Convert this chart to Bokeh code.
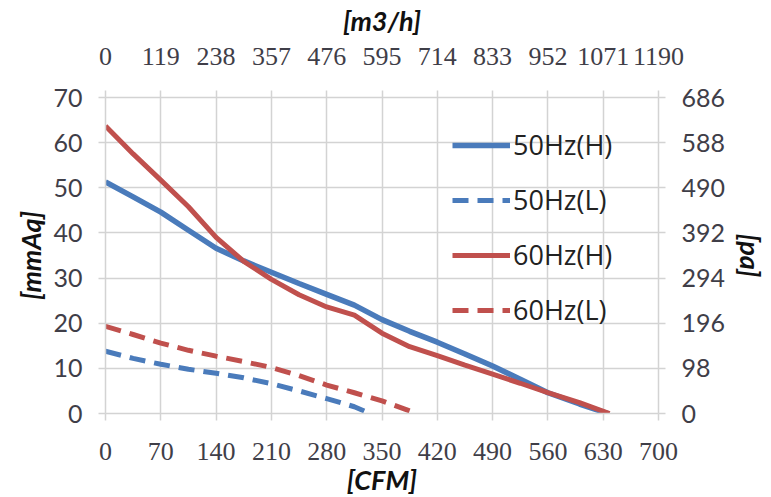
import math
from bokeh.plotting import figure
from bokeh.models import Range1d, LinearAxis, FixedTicker, Legend, LegendItem, Title
from bokeh.embed import file_html
from bokeh.resources import INLINE

# ---- data ----
cfm_ticks = [0, 70, 140, 210, 280, 350, 420, 490, 560, 630, 700]
mmaq_ticks = [0, 10, 20, 30, 40, 50, 60, 70]
m3h_ticks = [0, 119, 238, 357, 476, 595, 714, 833, 952, 1071, 1190]
pa_ticks = [0, 98, 196, 294, 392, 490, 588, 686]

h50_x = [0, 35, 70, 105, 140, 175, 210, 245, 280, 315, 350, 385, 420, 455, 490, 525, 560, 600, 636]
h50_y = [51.3, 48.0, 44.6, 40.6, 36.6, 33.8, 31.3, 28.8, 26.4, 24.0, 20.8, 18.2, 15.8, 13.2, 10.5, 7.6, 4.6, 2.1, 0]

l50_x = [0, 35, 70, 105, 140, 175, 210, 245, 280, 315, 335]
l50_y = [13.8, 12.2, 10.9, 9.8, 8.9, 7.9, 6.6, 5.0, 3.3, 1.5, 0]

h60_x = [0, 35, 70, 105, 140, 175, 210, 245, 280, 315, 350, 385, 420, 455, 490, 525, 560, 600, 638]
h60_y = [63.7, 57.5, 51.7, 45.8, 39.0, 33.7, 29.7, 26.3, 23.6, 21.8, 17.8, 14.8, 12.8, 10.7, 8.7, 6.7, 4.6, 2.4, 0]

l60_x = [0, 35, 70, 105, 140, 175, 210, 245, 280, 315, 350, 394]
l60_y = [19.3, 17.5, 15.6, 14.0, 12.7, 11.5, 10.2, 8.4, 6.3, 4.6, 2.8, 0]

labels = ["50Hz(H)", "50Hz(L)", "60Hz(H)", "60Hz(L)"]

BLUE = "#4a7bbb"
RED = "#c0504d"
GRID = "#d3d3d3"
TXT = "#3f3e48"

p = figure(frame_width=553, frame_height=316,
           x_range=Range1d(0, 700), y_range=Range1d(0, 70),
           output_backend="svg", toolbar_location=None,
           min_border_left=105, min_border_right=97,
           min_border_top=97, min_border_bottom=80,
           background_fill_color="white", border_fill_color="white")
p.outline_line_color = None
p.extra_x_ranges = {"m3h": Range1d(0, 1190)}
p.extra_y_ranges = {"pa": Range1d(0, 686)}

bottom = p.below[0]
left = p.left[0]
top = LinearAxis(x_range_name="m3h")
right = LinearAxis(y_range_name="pa")
p.add_layout(top, "above")
p.add_layout(right, "right")

bottom.ticker = FixedTicker(ticks=cfm_ticks)
left.ticker = FixedTicker(ticks=mmaq_ticks)
top.ticker = FixedTicker(ticks=m3h_ticks)
right.ticker = FixedTicker(ticks=pa_ticks)

p.xgrid.ticker = FixedTicker(ticks=cfm_ticks)
p.ygrid.ticker = FixedTicker(ticks=mmaq_ticks)
for g in (p.xgrid, p.ygrid):
    g.grid_line_color = GRID
    g.grid_line_width = 1.5

bottom.axis_label = "[CFM]"
left.axis_label = "[mmAq]"
top.axis_label = "[m3/h]"

for ax in (bottom, left, top, right):
    ax.axis_line_color = GRID
    ax.axis_line_width = 1.5
    ax.major_tick_line_color = GRID
    ax.major_tick_line_width = 1.5
    ax.major_tick_out = 7
    ax.major_tick_in = 0
    ax.minor_tick_line_color = None
    ax.major_label_text_color = TXT
    ax.axis_label_text_font = "Lato"
    ax.axis_label_text_font_style = "bold italic"
    ax.axis_label_text_font_size = "27px"
    ax.axis_label_text_color = "#111111"

top.major_label_text_font = "Liberation Sans Narrow"
top.major_label_text_font_size = "26px"
top.major_label_standoff = 26
top.axis_label_standoff = 8

bottom.major_label_text_font = "Liberation Sans Narrow"
bottom.major_label_text_font_size = "26px"
bottom.major_label_standoff = 22
bottom.axis_label_standoff = 0

for ax in (left, right):
    ax.major_label_text_font = "Lato"
    ax.major_label_text_font_size = "25px"
    ax.major_label_standoff = 16
left.axis_label_standoff = 3

# right axis title reading bottom-to-top, like the left one
if "axis_label_orientation" in right.properties():
    right.axis_label = "[pa]"
    right.axis_label_orientation = "vertical"
    right.axis_label_standoff = 6
else:
    t = Title(text="[pa]", align="center", text_font="Lato",
              text_font_style="bold italic", text_font_size="27px",
              text_color="#111111")
    p.add_layout(t, "right")

r1 = p.line(h50_x, h50_y, line_color=BLUE, line_width=5.5)
r2 = p.line(l50_x, l50_y, line_color=BLUE, line_width=5, line_dash="16 9")
r3 = p.line(h60_x, h60_y, line_color=RED, line_width=5)
r4 = p.line(l60_x, l60_y, line_color=RED, line_width=5, line_dash="16 9")

legend = Legend(items=[LegendItem(label=labels[0], renderers=[r1]),
                       LegendItem(label=labels[1], renderers=[r2]),
                       LegendItem(label=labels[2], renderers=[r3]),
                       LegendItem(label=labels[3], renderers=[r4])],
                location=(347, 85), orientation="vertical",
                background_fill_alpha=0, border_line_color=None,
                padding=0, margin=0, spacing=18,
                glyph_width=58, glyph_height=28, label_height=28,
                label_standoff=3,
                label_text_font="Open Sans", label_text_font_size="27px",
                label_text_color="#222222")
p.add_layout(legend)

open("out.html", "w").write(file_html(p, INLINE))
